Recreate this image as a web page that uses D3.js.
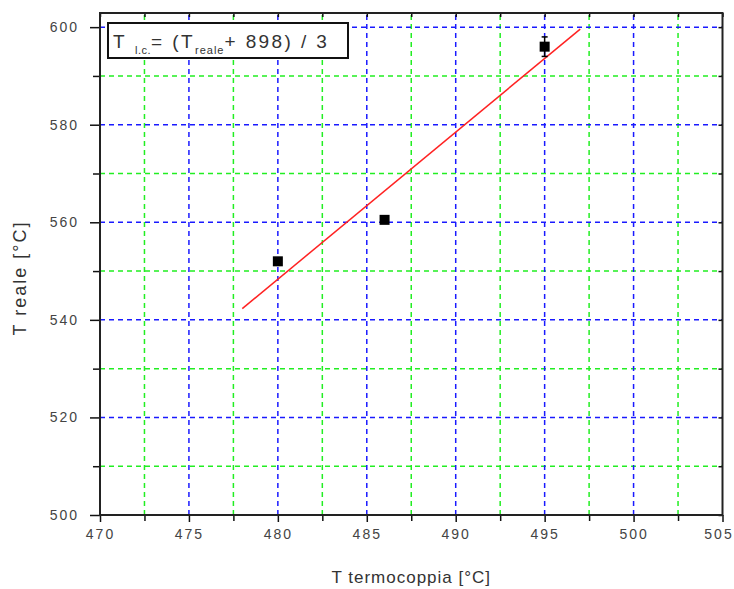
<!DOCTYPE html>
<html>
<head>
<meta charset="utf-8">
<script src="https://cdn.jsdelivr.net/npm/d3@7"></script>
<style>
  body { margin: 0; background: #fff; }
  text { font-family: "Liberation Sans", Arial, sans-serif; }
</style>
</head>
<body>
<div id="chart"></div>
<script>
// measured points
const tcX = [480, 486, 495];
const realY = [552, 560.5, 596];
const errY = [0, 0, 2];

// fitted line ends
const fitX = [478, 497];
const fitY = [542.3, 599.6];

const xMajor = [470, 475, 480, 485, 490, 495, 500, 505];
const xMinor = [472.5, 477.5, 482.5, 487.5, 492.5, 497.5, 502.5];
const yMajor = [500, 520, 540, 560, 580, 600];
const yMinor = [510, 530, 550, 570, 590];

const width = 734, height = 589;
const m = { left: 100, right: 11.5, top: 13, bottom: 74 };

const svg = d3.select("#chart").append("svg")
  .attr("width", width)
  .attr("height", height);

const x = d3.scaleLinear().domain([470, 505]).range([m.left, width - m.right]);
const y = d3.scaleLinear().domain([500, 602.9]).range([height - m.bottom, m.top]);

const x0 = x.range()[0], x1 = x.range()[1];
const y0 = y.range()[0], y1 = y.range()[1];

// grid
const grid = svg.append("g").attr("fill", "none").attr("stroke-width", 1.5).attr("stroke-dasharray", "5,4");
grid.selectAll(".gxm").data(xMinor).join("line")
  .attr("x1", d => x(d)).attr("x2", d => x(d)).attr("y1", y0).attr("y2", y1)
  .attr("stroke", "#22ee22");
grid.selectAll(".gym").data(yMinor).join("line")
  .attr("y1", d => y(d)).attr("y2", d => y(d)).attr("x1", x0).attr("x2", x1)
  .attr("stroke", "#22ee22");
grid.selectAll(".gxM").data(xMajor.slice(1, -1)).join("line")
  .attr("x1", d => x(d)).attr("x2", d => x(d)).attr("y1", y0).attr("y2", y1)
  .attr("stroke", "#1a1aff");
grid.selectAll(".gyM").data(yMajor.slice(1)).join("line")
  .attr("y1", d => y(d)).attr("y2", d => y(d)).attr("x1", x0).attr("x2", x1)
  .attr("stroke", "#1a1aff");

// axes
const tickFont = g => g.selectAll("text")
  .attr("font-size", 14).attr("fill", "#444").style("letter-spacing", "2px");
const tickLines = g => g.selectAll("line").attr("stroke", "#111").attr("stroke-width", 1.5);

svg.append("g")
  .attr("transform", `translate(0,${y0})`)
  .call(d3.axisBottom(x).tickValues(xMajor).tickSize(7).tickPadding(7).tickFormat(d3.format("d")))
  .call(g => g.select(".domain").remove())
  .call(tickFont)
  .call(tickLines)
  .call(g => g.selectAll("text").filter(d => d === 505).attr("dx", -4));
svg.append("g")
  .attr("transform", `translate(0,${y0})`)
  .call(d3.axisBottom(x).tickValues(xMinor).tickSize(6).tickFormat(""))
  .call(g => g.select(".domain").remove())
  .call(tickLines);

svg.append("g")
  .attr("transform", `translate(${x0},0)`)
  .call(d3.axisLeft(y).tickValues(yMajor).tickSize(10).tickPadding(11).tickFormat(d3.format("d")))
  .call(g => g.select(".domain").remove())
  .call(tickFont)
  .call(tickLines);
svg.append("g")
  .attr("transform", `translate(${x0},0)`)
  .call(d3.axisLeft(y).tickValues(yMinor).tickSize(7).tickFormat(""))
  .call(g => g.select(".domain").remove())
  .call(tickLines);

// inward ticks on top and right
svg.append("g")
  .attr("transform", `translate(0,${y1})`)
  .call(d3.axisBottom(x).tickValues(xMajor.concat(xMinor)).tickSize(4).tickFormat(""))
  .call(g => g.select(".domain").remove())
  .call(tickLines);
svg.append("g")
  .attr("transform", `translate(${x1},0)`)
  .call(d3.axisLeft(y).tickValues(yMajor.concat(yMinor)).tickSize(4).tickFormat(""))
  .call(g => g.select(".domain").remove())
  .call(tickLines);

// frame
svg.append("rect")
  .attr("x", x0).attr("y", y1).attr("width", x1 - x0).attr("height", y0 - y1)
  .attr("fill", "none").attr("stroke", "#222").attr("stroke-width", 2);

// fit line
const fit = fitX.map((d, i) => ({ x: d, y: fitY[i] }));
svg.append("path")
  .attr("d", d3.line().x(d => x(d.x)).y(d => y(d.y))(fit))
  .attr("fill", "none").attr("stroke", "#ff2222").attr("stroke-width", 1.5);

// points + error bars
const pts = tcX.map((d, i) => ({ x: d, y: realY[i], e: errY[i] }));
const eb = svg.append("g").attr("stroke", "#000").attr("stroke-width", 1.5);
pts.filter(d => d.e > 0).forEach(d => {
  eb.append("line").attr("x1", x(d.x)).attr("x2", x(d.x)).attr("y1", y(d.y - d.e)).attr("y2", y(d.y + d.e));
  eb.append("line").attr("x1", x(d.x) - 3).attr("x2", x(d.x) + 3).attr("y1", y(d.y + d.e)).attr("y2", y(d.y + d.e));
  eb.append("line").attr("x1", x(d.x) - 3).attr("x2", x(d.x) + 3).attr("y1", y(d.y - d.e)).attr("y2", y(d.y - d.e));
});
svg.append("g").selectAll("rect").data(pts).join("rect")
  .attr("x", d => x(d.x) - 5).attr("y", d => y(d.y) - 5)
  .attr("width", 10).attr("height", 10)
  .attr("fill", "#000");

// legend box
const lg = svg.append("g");
lg.append("rect")
  .attr("x", 108).attr("y", 23).attr("width", 240).attr("height", 35)
  .attr("fill", "#fff").attr("stroke", "#111").attr("stroke-width", 2);
const lt = lg.append("text").attr("x", 113).attr("y", 48)
  .attr("font-size", 19).attr("fill", "#333").style("letter-spacing", "2.4px");
lt.append("tspan").text("T");
lt.append("tspan").attr("dx", 8).attr("dy", 6).attr("font-size", 11).style("letter-spacing", "0.5px").text("l.c.");
lt.append("tspan").attr("dy", -6).text("= (T");
lt.append("tspan").attr("dy", 6).attr("font-size", 11).style("letter-spacing", "1px").text("reale");
lt.append("tspan").attr("dy", -6).text("+ 898) / 3");

// axis titles
svg.append("text")
  .attr("x", (x0 + x1) / 2).attr("y", 583)
  .attr("text-anchor", "middle").attr("font-size", 17).attr("fill", "#333")
  .style("letter-spacing", "1px")
  .text("T termocoppia [°C]");
svg.append("text")
  .attr("transform", `translate(26,${(y0 + y1) / 2 + 14}) rotate(-90)`)
  .attr("text-anchor", "middle").attr("font-size", 18).attr("fill", "#333")
  .style("letter-spacing", "2px")
  .text("T reale [°C]");
</script>
</body>
</html>
